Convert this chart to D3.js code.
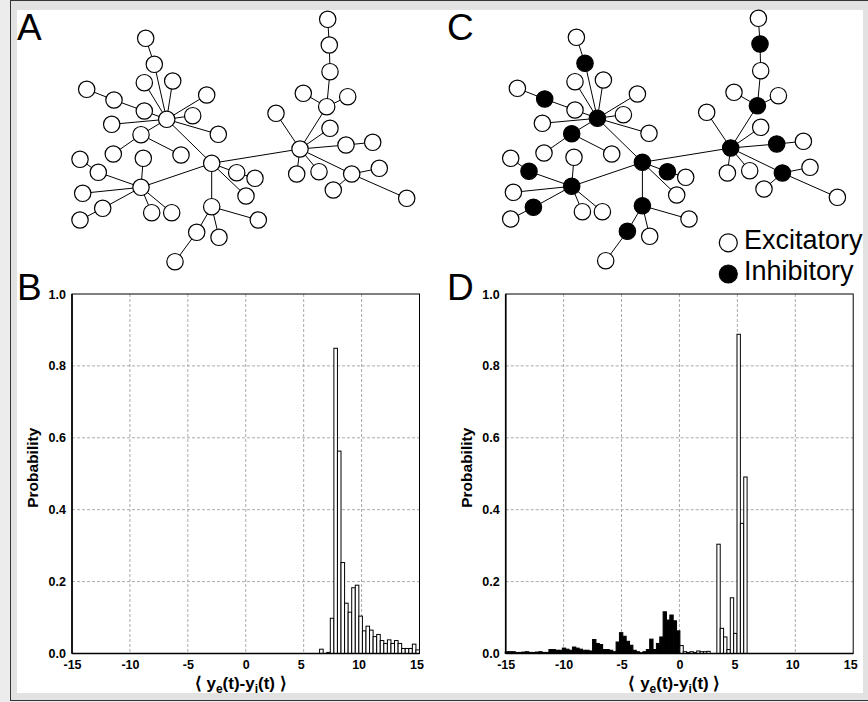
<!DOCTYPE html>
<html>
<head>
<meta charset="utf-8">
<script src="https://cdn.jsdelivr.net/npm/d3@7"></script>
<style>
  body { margin: 0; background: #fff; }
  svg { display: block; }
  text { font-family: "Liberation Sans", Arial, Helvetica, sans-serif; }
</style>
</head>
<body>
<svg id="fig" width="868" height="702"></svg>
<script>
// ---- network layout (panel A frame, px) ----
const nodeX = [166.7, 211.7, 300, 141, 211.7, 145.7, 154.3, 144.3, 172.7, 86.7,
               114, 144.3, 206.7, 192.7, 111.7, 218.3, 141, 113.3, 181, 236.7,
               255, 246, 80, 98.3, 143.3, 82.7, 102.7, 80, 151.7, 171.7,
               196.7, 175, 219, 258.3, 327.7, 329.3, 330, 326.7, 303.3, 347.7,
               276, 330, 346, 372.7, 296.7, 319, 351.7, 379.3, 333.3, 406.7];
const nodeY = [119.3, 163.3, 149, 187.3, 206.7, 38.3, 64.3, 82.7, 81, 89.3,
               100, 111, 95, 115.7, 124.3, 134.3, 134.7, 154, 155, 172.7,
               178.3, 196, 159.3, 172.3, 158.3, 193.3, 208.3, 220, 212.7, 212.7,
               232.3, 261.7, 237.3, 220, 19.3, 45, 71.7, 106.7, 93.3, 96.7,
               113.3, 128.3, 145, 142.3, 174, 171.7, 174, 168.3, 190, 198.3];
const links = [[0,1],[1,2],[1,3],[1,4],[5,6],[6,0],[7,0],[8,0],[9,10],[10,11],[11,0],
               [12,0],[13,0],[14,0],[15,0],[16,0],[17,16],[18,16],[19,1],[20,19],[21,1],
               [22,23],[23,3],[24,3],[25,3],[26,3],[27,26],[28,3],[29,3],[30,4],[31,30],
               [32,4],[33,4],[34,35],[35,36],[36,37],[37,2],[38,37],[39,37],[40,2],[41,2],
               [42,2],[43,42],[44,2],[45,2],[46,2],[47,46],[48,46],[49,46]];
const inhibitoryNodes = [0, 1, 2, 3, 4, 6, 10, 16, 19, 23, 26, 30, 35, 37, 42, 46];

// ---- histograms ----
const xTicks = [-15, -10, -5, 0, 5, 10, 15];
const yTicks = [0, 0.2, 0.4, 0.6, 0.8, 1.0];
const xGrid = [-10, -5, 0, 5, 10];
const yGrid = [0.2, 0.4, 0.6, 0.8];

// B: all excitatory
const probBStart = 6.376, probBWidth = 0.308;
const probB = [0.012, 0, 0.003, 0.098, 0.849, 0.563, 0.253, 0.14, 0.115, 0.183,
               0.19, 0.104, 0.063, 0.076, 0.065, 0.047, 0.053, 0.036, 0.028, 0.038,
               0.028, 0.036, 0.028, 0.014, 0.014, 0.014, 0.026, 0.01];

// D: inhibitory (black) and excitatory (white)
const probDInhStart = -15.04, probDWidth = 0.29;
const probDInh = [0.005, 0.005, 0.005, 0.003, 0.003, 0.004, 0.005, 0.003, 0.003, 0.004,
                  0.005, 0.003, 0.003, 0.011, 0.011, 0.009, 0.009, 0.015, 0.012, 0.009,
                  0.018, 0.015, 0.012, 0.009, 0.009, 0.007, 0.039, 0.028, 0.025, 0.011,
                  0.011, 0.009, 0.005, 0.032, 0.058, 0.048, 0.034, 0.023, 0.009, 0.005,
                  0.002, 0.005, 0.011, 0.04, 0.011, 0.028, 0.046, 0.116, 0.093, 0.107,
                  0.091, 0.063];
const probDExcStart = 0.04;
const probDExc = [0.022, 0.005, 0.003, 0.005, 0.003, 0.007, 0.005, 0.005, 0.006, 0,
                  0, 0.304, 0.07, 0.046, 0.011, 0.155, 0.056, 0.888, 0.362, 0.491];

const svg = d3.select("#fig");

// frame
svg.append("rect").attr("width", 868).attr("height", 702).attr("fill", "#ececec");
svg.append("rect").attr("x", 10.5).attr("y", 0.5).attr("width", 870).attr("height", 700)
  .attr("fill", "#e2e2e2").attr("stroke", "#333").attr("stroke-width", 1);
svg.append("rect").attr("x", 17).attr("y", 10).attr("width", 846).attr("height", 683).attr("fill", "#fff");

// panel letters
[["A", 17, 39.5], ["B", 17, 300], ["C", 447, 39.5], ["D", 447, 300]].forEach(function(d) {
  svg.append("text").attr("x", d[1]).attr("y", d[2]).attr("font-size", 37).text(d[0]);
});

function drawNetwork(dx, dy, colourInh) {
  const g = svg.append("g").attr("transform", "translate(" + dx + "," + dy + ")");
  g.selectAll("line").data(links).enter().append("line")
    .attr("x1", d => nodeX[d[0]]).attr("y1", d => nodeY[d[0]])
    .attr("x2", d => nodeX[d[1]]).attr("y2", d => nodeY[d[1]])
    .attr("stroke", "#000").attr("stroke-width", 1);
  g.selectAll("circle").data(d3.range(nodeX.length)).enter().append("circle")
    .attr("cx", i => nodeX[i]).attr("cy", i => nodeY[i]).attr("r", 8.2)
    .attr("fill", i => (colourInh && inhibitoryNodes.includes(i)) ? "#000" : "#fff")
    .attr("stroke", "#000").attr("stroke-width", 1.2);
}
drawNetwork(0, 0, false);
drawNetwork(430.7, -1, true);

// legend
const legend = svg.append("g");
[["Excitatory", "#fff", 242.8, 248.5], ["Inhibitory", "#000", 274, 279.5]].forEach(function(d) {
  legend.append("circle").attr("cx", 728.3).attr("cy", d[2]).attr("r", 9)
    .attr("fill", d[1]).attr("stroke", "#000").attr("stroke-width", 1.2);
  legend.append("text").attr("x", 744).attr("y", d[3]).attr("font-size", 27).text(d[0]);
});

function drawHist(left, series) {
  const top = 294, width = 347.5, height = 359.5;
  const g = svg.append("g").attr("transform", "translate(" + left + "," + top + ")");
  const x = d3.scaleLinear().domain([-15, 15]).range([0, width]);
  const y = d3.scaleLinear().domain([0, 1]).range([height, 0]);

  // grid
  g.selectAll(".gx").data(xGrid).enter().append("line")
    .attr("x1", d => x(d)).attr("x2", d => x(d)).attr("y1", 0).attr("y2", height)
    .attr("stroke", "#aaa").attr("stroke-dasharray", "3,2");
  g.selectAll(".gy").data(yGrid).enter().append("line")
    .attr("y1", d => y(d)).attr("y2", d => y(d)).attr("x1", 0).attr("x2", width)
    .attr("stroke", "#aaa").attr("stroke-dasharray", "3,2");

  // bars
  series.forEach(function(s) {
    g.append("g").selectAll("rect").data(s.values).enter().append("rect")
      .attr("x", (v, i) => x(s.start + i * s.width))
      .attr("width", x(s.width) - x(0))
      .attr("y", v => y(v))
      .attr("height", v => y(0) - y(v))
      .attr("fill", s.fill).attr("stroke", "#000").attr("stroke-width", 1)
      .attr("display", v => v > 0 ? null : "none");
  });

  // frame and axes
  g.append("rect").attr("width", width).attr("height", height)
    .attr("fill", "none").attr("stroke", "#000").attr("stroke-width", 1);
  g.append("line").attr("x1", 0).attr("x2", 0).attr("y1", 0).attr("y2", height)
    .attr("stroke", "#000").attr("stroke-width", 1.6);
  g.append("line").attr("x1", 0).attr("x2", width).attr("y1", height).attr("y2", height)
    .attr("stroke", "#000").attr("stroke-width", 1.6);

  const xa = g.append("g").attr("transform", "translate(0," + height + ")")
    .call(d3.axisBottom(x).tickValues(xTicks).tickFormat(d => String(d)).tickSize(0).tickPadding(6.5));
  xa.select(".domain").remove();
  xa.selectAll("text").attr("font-size", 12.5).attr("font-weight", "bold")
    .attr("font-family", "Liberation Sans, Arial, sans-serif").attr("fill", "#000")
    .attr("dx", d => d > 0 ? -3 : 0);

  const ya = g.append("g")
    .call(d3.axisLeft(y).tickValues(yTicks).tickFormat(d3.format(".1f")).tickSize(0).tickPadding(6));
  ya.select(".domain").remove();
  ya.selectAll("text").attr("font-size", 12.5).attr("font-weight", "bold")
    .attr("font-family", "Liberation Sans, Arial, sans-serif").attr("fill", "#000");

  // y title
  g.append("text").attr("transform", "translate(-34," + (height / 2 - 6) + ") rotate(-90)")
    .attr("text-anchor", "middle").attr("font-size", 15.5).attr("font-weight", "bold")
    .text("Probability");

  // x title
  const t = g.append("text").attr("x", width / 2 - 5).attr("y", height + 35)
    .attr("text-anchor", "middle").attr("font-size", 17).attr("font-weight", "bold");
  t.append("tspan").text("\u27E8 y");
  t.append("tspan").attr("dy", 4).attr("font-size", 12).text("e");
  t.append("tspan").attr("dy", -4).text("(t)-y");
  t.append("tspan").attr("dy", 4).attr("font-size", 12).text("i");
  t.append("tspan").attr("dy", -4).text("(t) \u27E9");
}

drawHist(72, [
  { start: probBStart, width: probBWidth, values: probB, fill: "#fff" }
]);
drawHist(505.7, [
  { start: probDInhStart, width: probDWidth, values: probDInh, fill: "#000" },
  { start: probDExcStart, width: probDWidth, values: probDExc, fill: "#fff" }
]);
</script>
</body>
</html>
